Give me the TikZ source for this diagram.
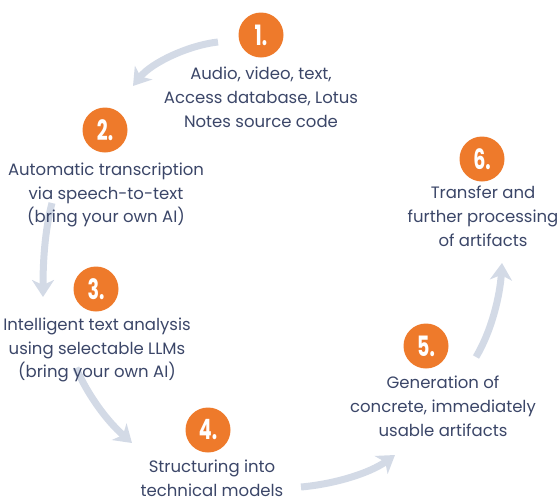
\documentclass[tikz,border=0pt]{standalone}
\usepackage{fontspec}
\setmainfont{Poppins}
\usepackage{graphicx}
\usepackage{xcolor}
\usepackage{tikz}
\usetikzlibrary{arrows.meta}
\definecolor{stepOrange}{HTML}{EE7A2B}
\definecolor{textNavy}{HTML}{3B4668}
\definecolor{arrowGrey}{HTML}{D3DAE6}
\newcommand{\circleSize}{45pt}
\newcommand{\arrowWidth}{7pt}
\newcommand{\stepNumber}[1]{\scalebox{.68}[1]{#1.}}
\newcommand{\stepCircles}{1/261/35, 2/105/130, 3/96/289, 4/208/430, 5/426/346, 6/482/159}
\newcommand{\stepTexts}{1/261/97/{Audio, video, text,\\Access database, Lotus\\Notes source code}, 2/106/195/{Automatic transcription\\via speech-to-text\\(bring your own AI)}, 3/97/350/{Intelligent text analysis\\using selectable LLMs\\(bring your own AI)}, 4/212/478/{Structuring into\\technical models}, 5/443/406/{Generation of\\concrete, immediately\\usable artifacts}, 6/483/216/{Transfer and\\further processing\\of artifacts}}

\tikzset{
	stepcircle/.style={circle, fill=stepOrange, minimum size=\circleSize, inner sep=0pt, text=white, font=\fontsize{28}{28}\selectfont\bfseries},
	steptext/.style={align=center, text=textNavy, inner sep=0pt, font=\fontsize{16.5}{23.8}\selectfont},
	flowarrow/.style={arrowGrey, line width=\arrowWidth, -{Stealth[length=17pt, width=22pt, inset=5pt]}}
}

\begin{document}
\begin{tikzpicture}[x=1pt, y=-1pt]
	\useasboundingbox (0,0) rectangle (559,501);
	
	% free ends of the curved arrows
	\coordinate (arrowAs) at (218,42);
	\coordinate (arrowAe) at (133,86);
	\coordinate (arrowBs) at (52,203);
	\coordinate (arrowBe) at (43,297);
	\coordinate (arrowCs) at (76,368);
	\coordinate (arrowCe) at (132,443);
	\coordinate (arrowDs) at (301,487);
	\coordinate (arrowDe) at (395,455);
	\coordinate (arrowEs) at (476,357);
	\coordinate (arrowEe) at (502,263);
	
	\draw[flowarrow] (arrowAs) .. controls (190,45) and (152,62) .. (arrowAe);
	\draw[flowarrow] (arrowBs) .. controls (45,230) and (43,260) .. (arrowBe);
	\draw[flowarrow] (arrowCs) .. controls (88,395) and (106,420) .. (arrowCe);
	\draw[flowarrow] (arrowDs) .. controls (335,484) and (370,473) .. (arrowDe);
	\draw[flowarrow] (arrowEs) .. controls (492,330) and (500,295) .. (arrowEe);
	
	\foreach \stepNo/\cx/\cy in \stepCircles
	{
		\node[stepcircle] (step\stepNo) at (\cx,\cy) {\stepNumber{\stepNo}};
	}
	\foreach \stepNo/\tx/\ty/\label in \stepTexts
	{
		\node[steptext] (text\stepNo) at (\tx,\ty) {\label};
	}
\end{tikzpicture}
\end{document}
